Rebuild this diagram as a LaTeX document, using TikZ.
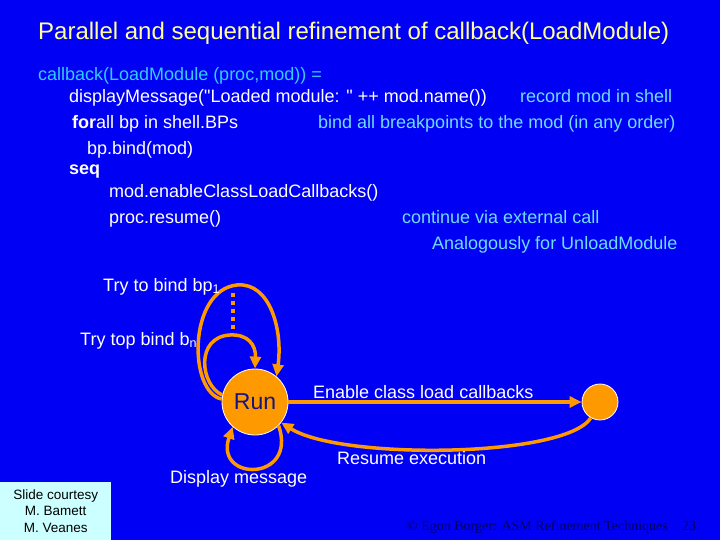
\documentclass[tikz,border=0pt]{standalone}
\usepackage{fontspec}
\setmainfont{Liberation Sans}[Ligatures=TeXOff]
\newfontfamily\serifft{Liberation Serif}
\usetikzlibrary{arrows.meta}
\definecolor{bg}{RGB}{0,0,245}
\definecolor{titlec}{RGB}{255,255,153}
\definecolor{headc}{RGB}{51,204,255}
\definecolor{commc}{RGB}{110,220,255}
\definecolor{orng}{RGB}{255,153,0}
\definecolor{navy}{RGB}{20,20,130}
\definecolor{boxc}{RGB}{204,255,255}
\definecolor{footc}{RGB}{0,0,90}
\begin{document}
\begin{tikzpicture}[x=1bp,y=-1bp,
  txt/.style={anchor=base west,inner sep=0pt,font=\fontsize{18bp}{21bp}\selectfont},
  code/.style={txt,text=white},
  head/.style={txt,text=headc},
  comm/.style={txt,text=commc},
  lab/.style={txt,text=white},
  state/.style={circle,fill=orng,draw=white,line width=0.8bp,inner sep=0pt},
  edge/.style={draw=orng,line width=3.5bp,-{Triangle[length=12bp,width=11bp]}},
  ]
\fill[bg] (0,0) rectangle (720,540);
\useasboundingbox (0,0) rectangle (720,540);

% title
\node[anchor=base west,inner sep=0pt,text=titlec,font=\fontsize{24bp}{28bp}\selectfont] (title) at (38,40)
  {Parallel and sequential refinement of callback(LoadModule)};

% code
\node[head] (l1) at (38,81) {callback(LoadModule (proc,mod)) =};
\node[code] (l2) at (69,103) {displayMessage("Loaded module: " ++ mod.name())};
\node[comm] (c2) at (520,103) {record mod in shell};
\node[code] (l3) at (72,129) {\textbf{for}all bp in shell.BPs};
\node[comm] (c3) at (318,129) {bind all breakpoints to the mod (in any order)};
\node[code] (l4) at (87,155) {bp.bind(mod)};
\node[code] (l5) at (69,175) {\textbf{seq}};
\node[code] (l6) at (109,198) {mod.enableClassLoadCallbacks()};
\node[code] (l7) at (109,224) {proc.resume()};
\node[comm] (c7) at (402,224) {continue via external call};
\node[comm] (c8) at (432,250) {Analogously for UnloadModule};

% states
\node[state,minimum size=66bp,text=navy,font=\fontsize{23bp}{26bp}\selectfont] (run) at (255,402) {Run};
\node[state,minimum size=36bp] (done) at (600,402) {};

% edges
\draw[edge] (run) -- (done);
\draw[edge] (done.240) .. controls (565,458) and (340,460) .. (run.-38);
\draw[edge] (run.-45) .. controls (298,482) and (214,482) .. (run.-132);
\draw[edge] (run.175) .. controls (188,392) and (188,290) .. (237,285)
            .. controls (270,282) and (283,330) .. (run.50);
\draw[edge] (run.168) .. controls (200,385) and (195,337) .. (230,335)
            .. controls (248,334) and (256,345) .. (run.north);
\coordinate (d1) at (233,293);
\coordinate (d2) at (233,332);
\draw[orng,line width=4bp,dash pattern=on 4bp off 4bp] (d1) -- (d2);

% labels
\node[lab] (t1) at (103,291) {Try to bind bp\textsubscript{1}};
\node[lab] (tn) at (80,345) {Try top bind b\textsubscript{n}};
\node[lab] (en) at (313,398) {Enable class load callbacks};
\node[lab] (re) at (337,464) {Resume execution};
\node[lab] (dm) at (170,483) {Display message};

% courtesy box
\node[fill=boxc,anchor=south west,minimum width=111bp,minimum height=58bp,inner sep=0pt,
      align=center,text=black,font=\fontsize{13.5bp}{16.5bp}\selectfont] (court) at (0,540)
  {Slide courtesy\\M. Bamett\\M. Veanes};

% footer
\node[anchor=base west,inner sep=0pt,text=footc,font=\serifft\fontsize{14bp}{16bp}\selectfont] (foot) at (407,530)
  {© Egon Borger: ASM Refinement Techniques};
\node[anchor=base west,inner sep=0pt,text=footc,font=\serifft\fontsize{14bp}{16bp}\selectfont] (page) at (682,530) {23};
\end{tikzpicture}
\end{document}
